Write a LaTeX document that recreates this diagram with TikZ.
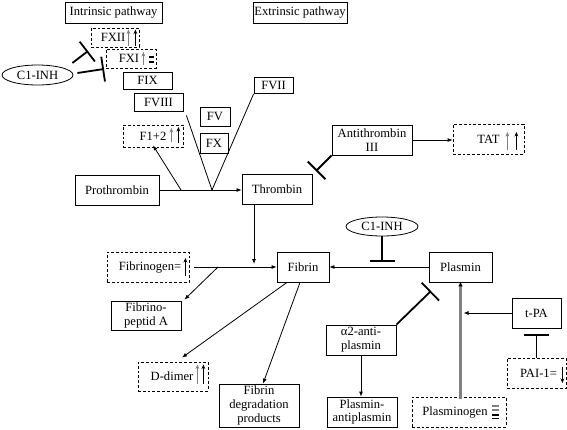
\documentclass[tikz,border=0pt]{standalone}
\usepackage{fontspec}
\setmainfont{Liberation Serif}
\usetikzlibrary{arrows.meta,shapes.geometric}
\newcommand\mfs{\fontsize{12.6}{13.8}\selectfont}
\tikzset{
  box/.style={draw, line width=0.8pt, inner sep=0pt, align=center, font=\mfs},
  dbox/.style={box, dash pattern=on 2.8pt off 2pt},
  oval/.style={draw, ellipse, line width=0.8pt, inner sep=0pt, font=\mfs},
  arr/.style={line width=0.8pt, -{Latex[length=5pt,width=4pt]}},
  gline/.style={draw=black!50, line width=2.2pt, -{Latex[length=5pt,width=4.5pt,color=black]}},
  plain/.style={line width=0.8pt},
  inh/.style={line width=1.8pt, -{Bar[width=25pt,line width=1.8pt]}},
  garr/.style={draw=black!50, line width=1.6pt, -{Stealth[length=4.5pt,width=3.8pt]}},
  barr/.style={draw=black, line width=1.6pt, -{Stealth[length=4.5pt,width=3.8pt]}},
  geq/.style={draw=black!50, line width=1.1pt},
  beq/.style={draw=black, line width=1.6pt},
}
\begin{document}
\begin{tikzpicture}[x=1pt,y=-1pt]
\useasboundingbox (0,0) rectangle (567,429);
% nodes
\node[box, minimum width=97pt, minimum height=21pt] (intr) at (113.5,12.5) {Intrinsic pathway};
\node[box, minimum width=94pt, minimum height=21pt] (extr) at (300,12.5) {Extrinsic pathway};
\node[dbox, minimum width=48pt, minimum height=19pt] (fxii) at (115,37.5) {FXII\hspace{4pt}};
\node[dbox, minimum width=50pt, minimum height=19pt] (fxi) at (131,58.5) {FXI\hspace{4pt}};
\node[box, minimum width=49pt, minimum height=17pt] (fix) at (147.5,80.5) {FIX};
\node[box, minimum width=49pt, minimum height=18pt] (fviii) at (158.5,102) {FVIII};
\node[box, minimum width=30pt, minimum height=19pt] (fv) at (215,116.5) {FV};
\node[box, minimum width=28pt, minimum height=20pt] (fx) at (214,143) {FX};
\node[box, minimum width=39pt, minimum height=16pt] (fvii) at (273.5,85.5) {FVII};
\node[dbox, minimum width=60pt, minimum height=22pt] (f12) at (153,136) {F1+2};
\node[box, minimum width=84pt, minimum height=30pt] (proth) at (117,190) {Prothrombin};
\node[box, minimum width=70pt, minimum height=30pt] (thromb) at (277,189) {Thrombin};
\node[box, minimum width=80pt, minimum height=30pt] (at3) at (372,140) {Antithrombin\\III};
\node[dbox, minimum width=71pt, minimum height=30pt] (tat) at (488.5,139) {TAT};
\node[oval, minimum width=71pt, minimum height=20pt] (c1a) at (37.5,75) {C1-INH};
\node[dbox, minimum width=82pt, minimum height=30pt] (fbgn) at (148,267) {\hspace{4pt}Fibrinogen=};
\node[box, minimum width=52pt, minimum height=30pt] (fibrin) at (303,267) {Fibrin};
\node[box, minimum width=63pt, minimum height=30pt] (plasmin) at (460.5,267) {Plasmin};
\node[oval, minimum width=72pt, minimum height=19pt] (c1b) at (382,226.5) {C1-INH};
\node[box, minimum width=70pt, minimum height=29pt] (fpa) at (146,315.5) {Fibrino-\\peptid A};
\node[dbox, minimum width=70pt, minimum height=29pt] (ddim) at (173,376.5) {D-dimer\hspace{2pt}};
\node[box, minimum width=80pt, minimum height=43pt] (fdp) at (259,405.5) {Fibrin\\degradation\\products};
\node[box, minimum width=70pt, minimum height=30pt] (a2) at (361,340) {α2-anti-\\plasmin};
\node[box, minimum width=70pt, minimum height=30pt] (pap) at (362,412) {Plasmin-\\antiplasmin};
\node[dbox, minimum width=94pt, minimum height=30pt] (plgn) at (459,412) {Plasminogen\hspace{8pt}};
\node[box, minimum width=49pt, minimum height=30pt] (tpa) at (536.5,313) {t-PA};
\node[dbox, minimum width=59pt, minimum height=30pt] (pai) at (536.5,373) {\hspace{4pt}PAI-1=};
% coordinates
\coordinate (m) at (212,190);
\coordinate (b1) at (181,190);
\coordinate (ti1) at (88,51);
\coordinate (ti2) at (104,69);
\coordinate (tat3) at (316,171);
\coordinate (jt) at (254,264);
\coordinate (b2) at (218,267);
\coordinate (tc1) at (382,262);
\coordinate (ta2) at (431,291);
\coordinate (tpai) at (536.5,334);
\coordinate (jp) at (plasmin.south |- tpa.west);
% connectors
\draw[arr] (proth.east) -- (proth.east -| thromb.west);
\draw[arr] (b1) -- ([yshift=2pt]f12.south);
\draw[plain] ([shift={(3,4)}]fviii.south east) -- (m);
\draw[plain] (fvii.south west) -- (m);
\draw[inh] ([shift={(-1,-12)}]c1a.east) -- (ti1);
\draw[inh] ([shift={(4,-2)}]c1a.east) -- (ti2);
\draw[inh] (at3.south west) -- (tat3);
\draw[arr] (at3.east) -- (at3.east -| tat.west);
\draw[arr] ([xshift=-23pt]thromb.south) -- (jt);
\draw[arr] ([xshift=5pt]fbgn.east) -- (fbgn.east -| fibrin.west);
\draw[arr] (b2) -- ([shift={(3,-1)}]fpa.north east);
\draw[arr] ([xshift=-16pt]fibrin.south) -- ([shift={(9,-4)}]ddim.north);
\draw[arr] ([xshift=-3pt]fibrin.south) -- ([xshift=4pt]fdp.north);
\draw[arr] (plasmin.west) -- (fibrin.east);
\draw[inh] (c1b.south) -- (tc1);
\draw[inh] (a2.north east) -- (ta2);
\draw[arr] (a2.south) -- (a2.south |- pap.north);
\draw[gline] ([yshift=-2pt]plasmin.south |- plgn.north) -- ([yshift=1pt]plasmin.south);
\draw[arr] (tpa.west) -- ([xshift=3pt]jp);
\draw[inh] (pai.north) -- (tpai);
% level markers
\draw[garr] ([shift={(-11,8)}]fxii.east) -- ([shift={(-11,-8)}]fxii.east);
\draw[barr] ([shift={(-4,8)}]fxii.east) -- ([shift={(-4,-8)}]fxii.east);
\draw[garr] ([shift={(-13,6.5)}]fxi.east) -- ([shift={(-13,-6.5)}]fxi.east);
\draw[beq] ([shift={(-7.5,-1.3)}]fxi.east) -- ++(5,0);
\draw[beq] ([shift={(-7.5,3.2)}]fxi.east) -- ++(5,0);
\draw[garr] ([shift={(-12,6)}]f12.east) -- ([shift={(-12,-8)}]f12.east);
\draw[barr] ([shift={(-5,7)}]f12.east) -- ([shift={(-5,-9)}]f12.east);
\draw[garr] ([shift={(-17,11)}]tat.east) -- ([shift={(-17,-7)}]tat.east);
\draw[barr] ([shift={(-8,11)}]tat.east) -- ([shift={(-8,-7)}]tat.east);
\draw[barr] ([shift={(-4,9)}]fbgn.east) -- ([shift={(-4,-9)}]fbgn.east);
\draw[garr] ([shift={(-11,7.5)}]ddim.east) -- ([shift={(-11,-12)}]ddim.east);
\draw[barr] ([shift={(-5,7.5)}]ddim.east) -- ([shift={(-5,-12)}]ddim.east);
\draw[barr] ([shift={(-4,-6)}]pai.east) -- ([shift={(-4,10)}]pai.east);
\draw[geq] ([shift={(-14,-6)}]plgn.east) -- ++(7,0);
\draw[geq] ([shift={(-14,-2)}]plgn.east) -- ++(7,0);
\draw[beq] ([shift={(-14,3)}]plgn.east) -- ++(7,0);
\draw[beq] ([shift={(-14,6.5)}]plgn.east) -- ++(7,0);
\end{tikzpicture}
\end{document}
